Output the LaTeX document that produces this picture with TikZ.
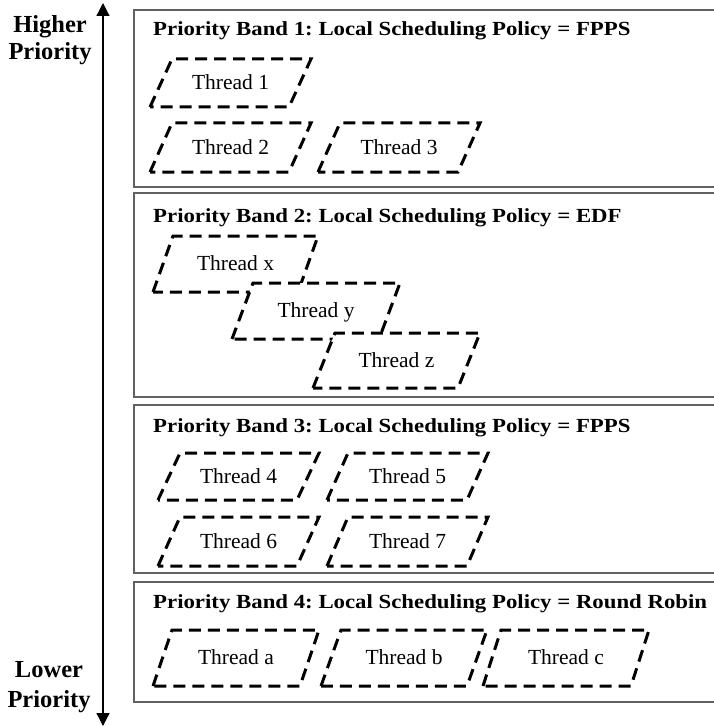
\documentclass[tikz,border=0pt]{standalone}
\usepackage{fontspec}
\usepackage{graphicx}
\setmainfont{Liberation Serif}
\usetikzlibrary{arrows.meta}
\frenchspacing

% one dashed, white-filled parallelogram per thread, with its label
% #1 name, #2 x of lower-left corner, #3 top y, #4 bottom y, #5 width, #6 slant, #7 label
\newcommand{\threadbox}[7]{%
  \filldraw[threadline] (#2,#4) -- ({#2+#6},#3) -- ({#2+#6+#5},#3)
     -- ({#2+#5},#4) -- cycle;
  \node[threadlabel] (#1) at ({#2+#5/2+#6/2},{(#3+#4)/2+6.5}) {#7};
}

\begin{document}
\begin{tikzpicture}[x=1bp,y=-1bp,
  bandframe/.style={draw=black!62,line width=1.3bp},
  threadline/.style={draw=black,fill=white,line width=3bp,
    dash pattern=on 12bp off 7bp},
  threadlabel/.style={anchor=base,inner sep=0pt,
    font=\fontsize{21.5bp}{26bp}\selectfont},
  bandtitle/.style={anchor=base west,inner sep=0pt,
    font=\fontsize{20bp}{24bp}\selectfont\bfseries},
  sidelabel/.style={anchor=base,inner sep=0pt,
    font=\fontsize{24.5bp}{28bp}\selectfont\bfseries},
  axisline/.style={draw=black,line width=1.2bp,
    {Triangle[width=13bp,length=13bp]}-{Triangle[width=13bp,length=13bp]}}]

\useasboundingbox (0,0) rectangle (714,726);
\clip (0,0) rectangle (714,726);

% priority axis
\coordinate (axistop) at (103,3);
\coordinate (axisbot) at (103,726);
\draw[axisline] (axisbot) -- (axistop);
\node[sidelabel] (hi1) at (50,33) {Higher};
\node[sidelabel] (hi2) at (50,60) {Priority};
\node[sidelabel] (lo1) at (49,677) {Lower};
\node[sidelabel] (lo2) at (49,707) {Priority};

% priority bands
\draw[bandframe] (134,10) rectangle (740,187);
\draw[bandframe] (134,193) rectangle (740,397);
\draw[bandframe] (134,405) rectangle (740,573);
\draw[bandframe] (134,582) rectangle (740,702);

\node[bandtitle] (title1) at (153,36)
  {\scalebox{1.14}[1]{Priority Band 1: Local Scheduling Policy = FPPS}};
\node[bandtitle] (title2) at (153,222)
  {\scalebox{1.14}[1]{Priority Band 2: Local Scheduling Policy = EDF}};
\node[bandtitle] (title3) at (153,432)
  {\scalebox{1.14}[1]{Priority Band 3: Local Scheduling Policy = FPPS}};
\node[bandtitle] (title4) at (153,608)
  {\scalebox{1.14}[1]{Priority Band 4: Local Scheduling Policy = Round Robin}};

% band 1 threads
\threadbox{t1}{150}{59}{107}{139}{22}{Thread 1}
\threadbox{t2}{150}{123}{172}{139}{22}{Thread 2}
\threadbox{t3}{318}{123}{172}{140}{22}{Thread 3}

% band 2 threads, each one laid over the previous
\threadbox{tx}{153}{236}{292}{145}{20}{Thread x}
\threadbox{ty}{232}{283}{339}{147}{21}{Thread y}
\threadbox{tz}{313}{333}{388}{145}{22}{Thread z}

% band 3 threads
\threadbox{t4}{158}{453}{500}{139}{22}{Thread 4}
\threadbox{t5}{327}{453}{500}{140}{21}{Thread 5}
\threadbox{t6}{158}{517}{566}{139}{22}{Thread 6}
\threadbox{t7}{327}{517}{566}{140}{21}{Thread 7}

% band 4 threads
\threadbox{ta}{153}{630}{686}{147}{19}{Thread a}
\threadbox{tb}{321}{630}{686}{146}{20}{Thread b}
\threadbox{tc}{483}{630}{686}{148}{18}{Thread c}

\end{tikzpicture}
\end{document}
